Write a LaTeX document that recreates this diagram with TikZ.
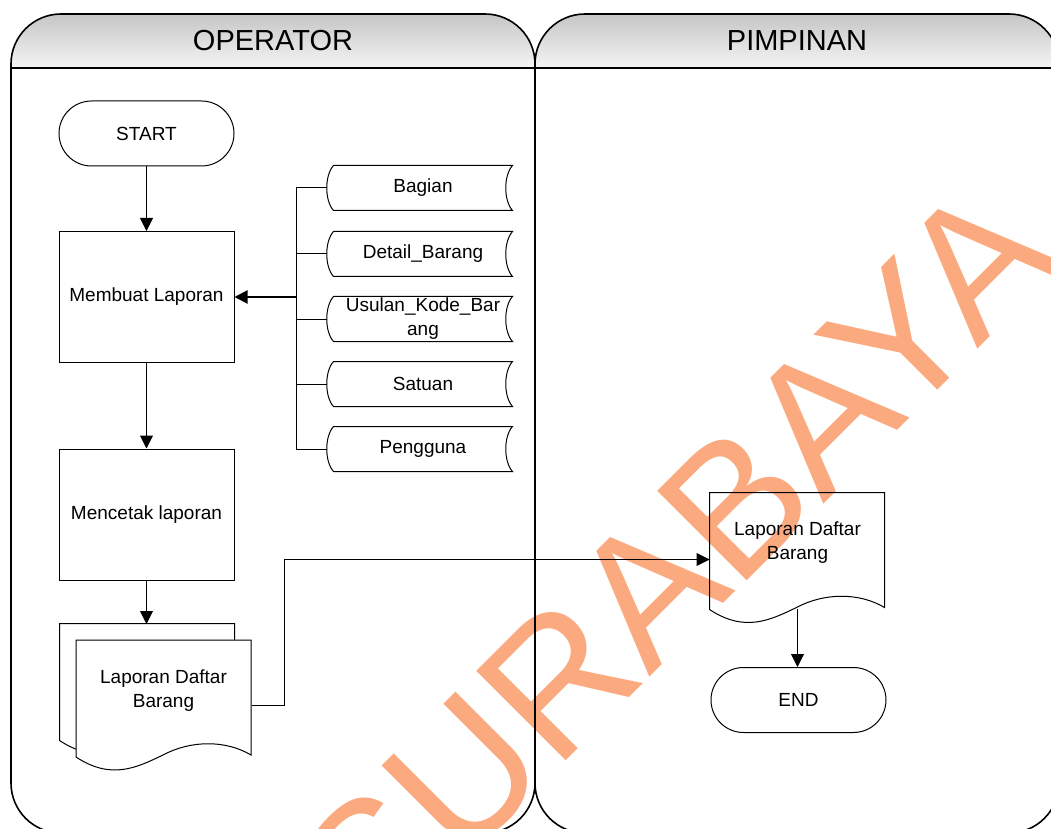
\documentclass[tikz,border=0pt]{standalone}
\usepackage{fontspec}
\setmainfont{Liberation Sans}
\usetikzlibrary{arrows.meta}
\definecolor{wmark}{RGB}{251,170,128}
\newcommand{\bodyfont}{\fontsize{9.5}{12}\selectfont}
\tikzset{
  flow/.style={-{Triangle[length=6.5pt,width=6.5pt]}},
  proc/.style={draw, minimum width=87.5pt, minimum height=65.5pt, align=center, font=\bodyfont},
  term/.style={draw, rounded corners=16.25pt, minimum width=87.5pt, minimum height=32.5pt, font=\bodyfont},
  store/.style={minimum width=89pt, minimum height=22pt, inner sep=0pt, align=center, font=\bodyfont},
  doctext/.style={minimum width=87.5pt, minimum height=50pt, inner sep=0pt, align=center, font=\bodyfont},
  lanetitle/.style={font=\fontsize{14.5}{17}\selectfont},
  docpage/.pic={\draw[fill=#1] (0,0) -- (175,0) -- (175,115) .. controls (150,100) and (115,100) .. (87,115) .. controls (60,128) and (35,140) .. (0,117) -- cycle;}
}
\begin{document}
\begin{tikzpicture}[x=0.5pt, y=-0.5pt, line width=0.5pt]
  \useasboundingbox (0,0) rectangle (1051,829);
  \clip (0,0) rectangle (1051,829);
  % watermark
  \node[rotate=45, text=wmark, font=\fontsize{92}{92}\selectfont, inner sep=0pt] (wm) at (675,563) {SURABAYA};
  % swimlanes
  \foreach \xa/\xb/\lane in {11/535/OPERATOR, 535/1059/PIMPINAN} {
    \begin{scope}
      \clip[rounded corners=25pt] (\xa,14) rectangle (\xb,833);
      \shade[top color=gray!45, bottom color=gray!8] (\xa,14) rectangle (\xb,68);
    \end{scope}
    \draw[line width=0.8pt, rounded corners=25pt] (\xa,14) rectangle (\xb,833);
    \draw[line width=0.8pt] (\xa,68) -- (\xb,68);
    \node[lanetitle] (\lane) at ({(\xa+\xb)/2},41) {\lane};
  }
  % operator
  \node[term] (start) at (146.5,133.5) {START};
  \node[proc] (buat) at (146.5,297) {Membuat Laporan};
  \node[proc] (cetak) at (146.5,514.5) {Mencetak laporan};
  \pic at (59.5,623.5) {docpage=white};
  \pic at (76,640) {docpage=white};
  \node[doctext] (md) at (163.5,690.5) {Laporan Daftar\\Barang};
  \coordinate (mdtop) at ([yshift=8pt]md.north);
  % data stores
  \coordinate (bus) at (296,297);
  \foreach \n/\y/\t in {bag/188/Bagian, det/254/Detail\_Barang, usu/319/{Usulan\_Kode\_Bar\\ang}, sat/384/Satuan, pen/449/Pengguna} {
    \node[store] (\n) at (423,\y) {\t};
    \draw (\n.north west) .. controls +(-9,10) and +(-9,-10) .. (\n.south west) -- (\n.south east)
      .. controls +(-9,-10) and +(-9,10) .. (\n.north east) -- cycle;
    \draw ([xshift=-3.4pt]\n.west) -| (bus);
  }
  % pimpinan
  \node[doctext] (ld) at (797.5,543) {Laporan Daftar\\Barang};
  \pic at (ld.north west) {docpage=none};
  \node[term] (end) at (798.5,700) {END};
  % connectors
  \draw[flow] (start) -- (buat);
  \draw[flow, line width=1pt] (bus) -- (buat.east);
  \draw[flow] (buat) -- (cetak);
  \draw[flow] (cetak) -- (cetak.south |- mdtop);
  \draw[flow] ([yshift=-7.5pt]md.east) -- ++(33,0) |- ([yshift=-33.5pt]ld.north west);
  \draw[flow] ([yshift=-7.5pt]ld.south) -- (ld.south |- end.north);
\end{tikzpicture}
\end{document}
